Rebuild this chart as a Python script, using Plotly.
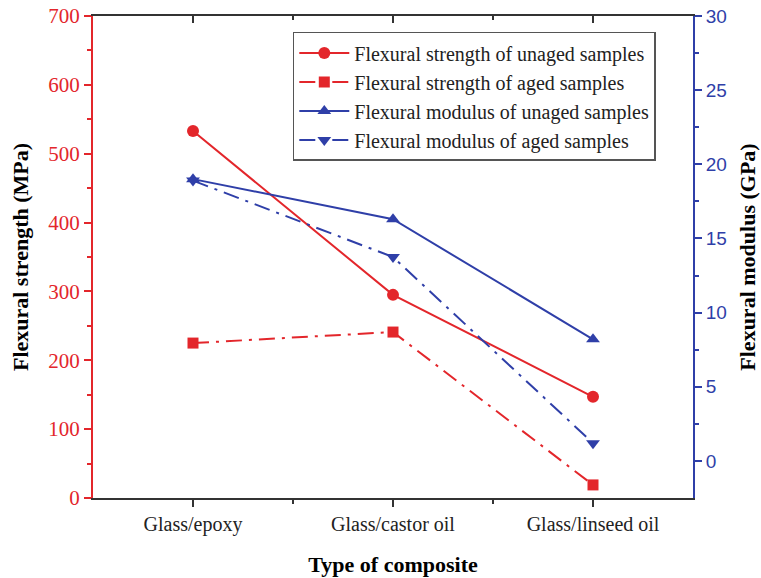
import plotly.graph_objects as go

categories = ["Glass/epoxy", "Glass/castor oil", "Glass/linseed oil"]
strength_unaged = [533, 295, 147]
strength_aged = [225, 241, 19]
modulus_unaged = [19.0, 16.3, 8.2]
modulus_aged = [18.9, 13.75, 1.2]

RED = "#e3262b"
BLUE = "#2f3fa8"
SERIF = "Liberation Serif"
SANS = "Liberation Sans"
xs = list(range(len(categories)))

fig = go.Figure()
fig.add_trace(go.Scatter(x=xs, y=strength_unaged, name="Flexural strength of unaged samples",
                         mode="lines+markers", line=dict(color=RED, width=2),
                         marker=dict(symbol="circle", size=12, color=RED)))
fig.add_trace(go.Scatter(x=xs, y=strength_aged, name="Flexural strength of aged samples",
                         mode="lines+markers", line=dict(color=RED, width=2, dash="16px,7px,3px,7px"),
                         marker=dict(symbol="square", size=11, color=RED)))
fig.add_trace(go.Scatter(x=xs, y=modulus_unaged, name="Flexural modulus of unaged samples",
                         mode="lines+markers", line=dict(color=BLUE, width=2),
                         marker=dict(symbol="triangle-up", size=12, color=BLUE), yaxis="y2"))
fig.add_trace(go.Scatter(x=xs, y=modulus_aged, name="Flexural modulus of aged samples",
                         mode="lines+markers", line=dict(color=BLUE, width=2, dash="16px,7px,3px,7px"),
                         marker=dict(symbol="triangle-down", size=12, color=BLUE), yaxis="y2"))
# invisible trace to drive the top axis
fig.add_trace(go.Scatter(x=xs, y=strength_unaged, xaxis="x2", mode="none", showlegend=False,
                         hoverinfo="skip"))

fig.update_layout(
    width=761, height=578,
    margin=dict(l=93, r=68, t=16, b=80),
    plot_bgcolor="white", paper_bgcolor="white",
    font=dict(family=SERIF, size=20, color="black"),
    xaxis=dict(range=[-0.5, 2.5], tickvals=xs, ticktext=categories, automargin=False,
               showline=True, linecolor="#333333", linewidth=2, ticks="outside", ticklen=7,
               tickcolor="#333333", tickwidth=2, showgrid=False, zeroline=False,
               tickfont=dict(family=SERIF, size=20, color="#222"),
               minor=dict(tickvals=[0.5, 1.5], ticks="outside", ticklen=4, tickcolor="#333333", tickwidth=2),
               title=dict(text="<b>Type of composite</b>", font=dict(family=SERIF, size=22, color="black"), standoff=22)),
    xaxis2=dict(range=[-0.5, 2.5], overlaying="x", side="top", anchor="y", automargin=False,
                tickvals=xs, showticklabels=False, showline=True, linecolor="#333333", linewidth=2,
                ticks="inside", ticklen=7, tickcolor="#333333", tickwidth=2, showgrid=False, zeroline=False,
                minor=dict(tickvals=[0.5, 1.5], ticks="inside", ticklen=4, tickcolor="#333333", tickwidth=2)),
    yaxis=dict(range=[0, 700], dtick=100, showline=True, linecolor=RED, linewidth=2, automargin=False,
               ticks="outside", ticklen=7, tickcolor=RED, tickwidth=2, showgrid=False, zeroline=False,
               tickfont=dict(family=SERIF, size=21, color=RED),
               minor=dict(dtick=50, ticks="outside", ticklen=4, tickcolor=RED, tickwidth=2),
               title=dict(text="<b>Flexural strength (MPa)</b>", font=dict(family=SERIF, size=22, color="black"), standoff=14)),
    yaxis2=dict(range=[-2.5, 30], tickvals=[0, 5, 10, 15, 20, 25, 30], overlaying="y", side="right",
                showline=True, linecolor=BLUE, linewidth=2, automargin=False,
                ticks="outside", ticklen=7, tickcolor=BLUE, tickwidth=2, showgrid=False, zeroline=False,
                tickfont=dict(family=SANS, size=19, color=BLUE),
                minor=dict(tickvals=[2.5, 7.5, 12.5, 17.5, 22.5, 27.5], ticks="outside", ticklen=4, tickcolor=BLUE, tickwidth=2),
                title=dict(text="<b>Flexural modulus (GPa)</b>", font=dict(family=SERIF, size=22, color="black"), standoff=14)),
    legend=dict(x=0.333, y=0.967, xanchor="left", yanchor="top", bgcolor="white",
                bordercolor="#555555", borderwidth=1.5, font=dict(family=SERIF, size=20, color="#222"),
                tracegroupgap=0, itemwidth=50),
    showlegend=True,
)

fig.write_html("out.html")
